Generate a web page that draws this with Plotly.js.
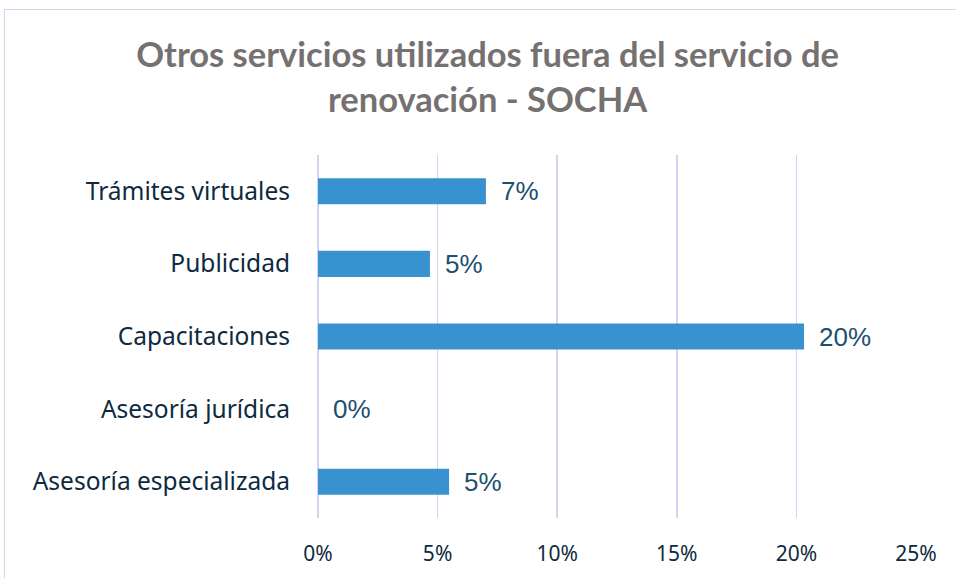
<!DOCTYPE html>
<html><head><meta charset="utf-8">
<script src="https://cdn.plot.ly/plotly-3.0.1.min.js"></script>
<style>
html,body{margin:0;padding:0;background:#fff;}
#wrap{position:relative;width:956px;height:578px;overflow:hidden;}
#chart{width:956px;height:578px;}
#frame{position:absolute;left:4px;top:9px;width:960px;height:580px;border:1.5px solid #d6d2ee;box-sizing:border-box;pointer-events:none;}
</style></head>
<body><div id="wrap"><div id="chart"></div><div id="frame"></div></div>
<script>
const categories = ["Asesoría especializada","Asesoría jurídica","Capacitaciones","Publicidad","Trámites virtuales"];
const values = [5.48, 0, 20.32, 4.68, 7.02];
const labels = ["5%","0%","20%","5%","7%"];
const tickVals = [0,5,10,15,20,25];
const tickText = ["0%","5%","10%","15%","20%","25%"];

const trace = {
  type:'bar', orientation:'h', y:categories, x:values,
  marker:{color:'#3892d0', line:{width:0}},
  hoverinfo:'none'
};
const annotations = categories.map((c,i)=>({
  x:values[i], y:c, xref:'x', yref:'y', text:labels[i], showarrow:false,
  xanchor:'left', yanchor:'middle', xshift:13,
  font:{family:'Liberation Sans Narrow, Arial Narrow, Liberation Sans, sans-serif', size:26, color:'#1d4f70'}
}));
const layout = {
  width:956, height:578,
  margin:{l:318, r:40, t:155, b:60, pad:0},
  paper_bgcolor:'#fff', plot_bgcolor:'#fff',
  title:{text:'Otros servicios utilizados fuera del servicio de<br>renovación - SOCHA',
    xref:'container', x:0.51, xanchor:'center', yref:'container', y:0.884, yanchor:'middle',
    font:{family:'Lato, sans-serif', size:34.5, color:'#767171', weight:'bold'}},
  bargap:0.64,
  showlegend:false,
  xaxis:{range:[0,25], tickvals:tickVals, ticktext:tickText, showgrid:true, gridcolor:'#d6d2f2', gridwidth:1.5,
    zeroline:true, zerolinecolor:'#d6d2f2', zerolinewidth:1.5, showline:false, ticks:'',
    ticklabelstandoff:21, tickfont:{family:'Noto Sans, sans-serif', size:21, color:'#0e2a3e'}, fixedrange:true},
  yaxis:{categoryorder:'array', categoryarray:categories, showgrid:false, zeroline:false, showline:false, ticks:'',
    ticklabelstandoff:27, tickfont:{family:'Noto Sans, sans-serif', size:24.5, color:'#0e2a3e'}, fixedrange:true},
  annotations:annotations
};
Plotly.newPlot('chart',[trace],layout,{displayModeBar:false, staticPlot:true});
</script></body></html>
